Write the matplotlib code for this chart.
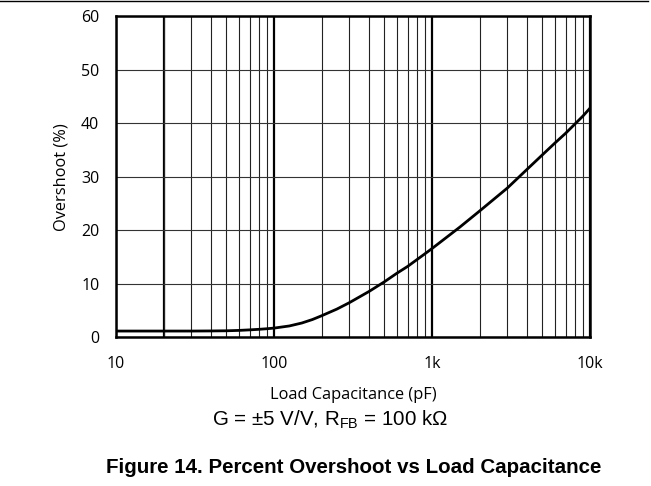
import matplotlib
matplotlib.use("Agg")
import matplotlib.pyplot as plt
from matplotlib.ticker import FixedLocator, NullFormatter

# load capacitance (pF) and overshoot (%)
cap_pf = [10, 20, 30, 40, 50, 60, 70, 80, 90, 100, 125, 150, 175,
          200, 250, 300, 400, 500, 600, 700, 800, 900, 1000, 1500,
          2000, 3000, 4000, 5000, 6000, 7000, 8000, 9000, 10000]
overshoot = [1.2, 1.2, 1.2, 1.22, 1.25, 1.32, 1.42, 1.52, 1.63, 1.75, 2.15, 2.7, 3.35,
             4.05, 5.3, 6.5, 8.6, 10.4, 12.0, 13.25, 14.5, 15.6, 16.6, 20.6,
             23.6, 27.9, 31.4, 34.1, 36.3, 38.1, 39.8, 41.3, 42.8]

x_ticks = [10, 100, 1000, 10000]
x_tick_labels = ["10", "100", "1k", "10k"]
y_ticks = [0, 10, 20, 30, 40, 50, 60]
heavy_lines = [20]  # extra heavy vertical rule in the first decade

tick_font = "Open Sans"
note_font = "Liberation Sans"

fig = plt.figure(figsize=(6.51, 4.86), dpi=100)
ax = fig.add_axes([0.1782, 0.3056, 0.7281, 0.6614])

ax.set_xscale("log")
ax.set_xlim(10, 10000)
ax.set_ylim(0, 60)

ax.xaxis.set_minor_locator(FixedLocator(
    [m * d for d in (10, 100, 1000) for m in range(2, 10)]))
ax.xaxis.set_minor_formatter(NullFormatter())
ax.set_xticks(x_ticks)
ax.set_xticklabels(x_tick_labels)
ax.set_yticks(y_ticks)

ax.grid(True, which="major", axis="x", color="black", linewidth=1.6)
ax.grid(True, which="minor", axis="x", color="#222222", linewidth=0.8)
ax.grid(True, which="major", axis="y", color="#333333", linewidth=0.8)
for xv in heavy_lines:
    ax.axvline(xv, color="black", linewidth=1.6, zorder=1)

ax.tick_params(which="both", length=0)
ax.tick_params(axis="x", pad=13)
ax.tick_params(axis="y", pad=12)
for lbl in ax.get_xticklabels() + ax.get_yticklabels():
    lbl.set_fontfamily(tick_font)
    lbl.set_fontsize(11.5)

for sp in ax.spines.values():
    sp.set_linewidth(1.8)
    sp.set_zorder(5)

ax.plot(cap_pf, overshoot, color="black", linewidth=2.0, zorder=4)

ax.set_xlabel("Load Capacitance (pF)", fontfamily=tick_font, fontsize=11.8, labelpad=11)
ax.set_ylabel("Overshoot (%)", fontfamily=tick_font, fontsize=11.8, labelpad=8)

fig.text(330 / 651, 1 - 420 / 486, r"G = ±5 V/V, R$_{\mathregular{FB}}$ = 100 kΩ",
         ha="center", va="center", fontfamily=note_font, fontsize=14.8)
fig.text(354 / 651, 1 - 467 / 486, "Figure 14. Percent Overshoot vs Load Capacitance",
         ha="center", va="center", fontfamily=note_font, fontsize=14.8,
         fontweight="bold")

# rule across the top of the page
fig.add_artist(plt.Line2D([0, 0.995], [0.998, 0.998], color="black", linewidth=1.0))

fig.savefig("out.png", dpi=100)
